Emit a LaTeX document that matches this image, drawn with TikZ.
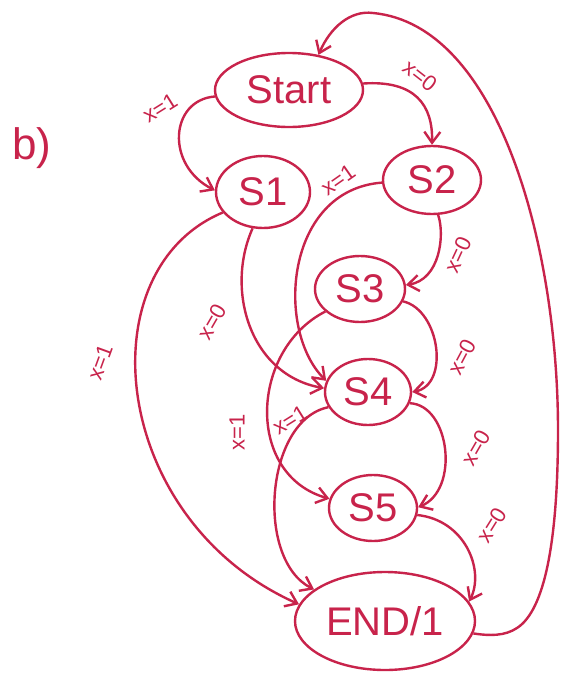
\documentclass[tikz,border=0pt]{standalone}
\usepackage{fontspec}
\setmainfont{Liberation Sans}
\usetikzlibrary{shapes.geometric,arrows.meta}
\definecolor{ink}{RGB}{200,35,75}
\begin{document}
\begin{tikzpicture}[x=1pt,y=-1pt,
  state/.style={ellipse,draw=ink,line width=2.4pt,inner sep=0pt,text=ink,font=\fontsize{40}{40}\selectfont},
  lbl/.style={text=ink,inner sep=0pt,font=\fontsize{22}{22}\selectfont},
  arr/.style={draw=ink,line width=2.4pt,-{Straight Barb[length=11pt,width=16pt,line width=2.4pt]}},
  plain/.style={draw=ink,line width=2.4pt}]
\useasboundingbox (0,0) rectangle (568,675);
\fill[white] (0,0) rectangle (568,675);
% states
\node[state,minimum width=148pt,minimum height=74pt] (start) at (289,90) {Start};
\node[state,minimum width=94pt,minimum height=72pt] (s1) at (263,192) {S1};
\node[state,minimum width=98pt,minimum height=68pt] (s2) at (432,180) {S2};
\node[state,minimum width=90pt,minimum height=66pt] (s3) at (360,289) {S3};
\node[state,minimum width=86pt,minimum height=66pt] (s4) at (368,392) {S4};
\node[state,minimum width=88pt,minimum height=66pt] (s5) at (373,508) {S5};
\node[state,minimum width=180pt,minimum height=98pt] (end) at (385,621) {END/1};
\node[text=ink,font=\fontsize{44}{44}\selectfont] (b) at (32,148) {b)};
% edges
\draw[arr] (end.-8) .. controls (490,636) and (505,636) .. (517,628)
  .. controls (545,610) and (558,540) .. (558,430)
  .. controls (558,250) and (500,25) .. (373,13)
  .. controls (350,10) and (330,28) .. (start.50);
\draw[arr] (start.185) .. controls (170,100) and (165,165) .. (s1.178);
\draw[arr] (start.5) .. controls (415,80) and (433,105) .. (s2.90);
\draw[arr] (s2.183) .. controls (285,190) and (275,330) .. (s4.165);
\draw[arr] (s1.254) .. controls (225,290) and (250,375) .. (s4.175);
\draw[arr] (s1.207) .. controls (85,270) and (110,520) .. (end.169);
\draw[arr] (s2.-80) .. controls (445,235) and (440,280) .. (s3.5);
\draw[arr] (s3.-16) .. controls (440,310) and (450,385) .. (s4.0);
\draw[arr] (s3.213) .. controls (250,350) and (245,475) .. (s5.168);
\draw[arr] (s4.201) .. controls (265,420) and (255,560) .. (end.156);
\draw[arr] (s4.-15) .. controls (450,405) and (460,490) .. (s5.1);
\draw[arr] (s5.-9) .. controls (465,520) and (485,570) .. (end.13);
% labels
\node[lbl,rotate=32] (l1) at (160,108) {x=1};
\node[lbl,rotate=-38] (l2) at (420,76) {x=0};
\node[lbl,rotate=35] (l3) at (338,180) {x=1};
\node[lbl,rotate=60] (l4) at (212,322) {x=0};
\node[lbl,rotate=70] (l5) at (100,362) {x=1};
\node[lbl,rotate=65] (l6) at (458,255) {x=0};
\node[lbl,rotate=62] (l7) at (462,357) {x=0};
\node[lbl,rotate=90] (l8) at (237,432) {x=1};
\node[lbl,rotate=32] (l9) at (290,420) {x=1};
\node[lbl,rotate=60] (l10) at (476,448) {x=0};
\node[lbl,rotate=58] (l11) at (492,525) {x=0};
\end{tikzpicture}
\end{document}
